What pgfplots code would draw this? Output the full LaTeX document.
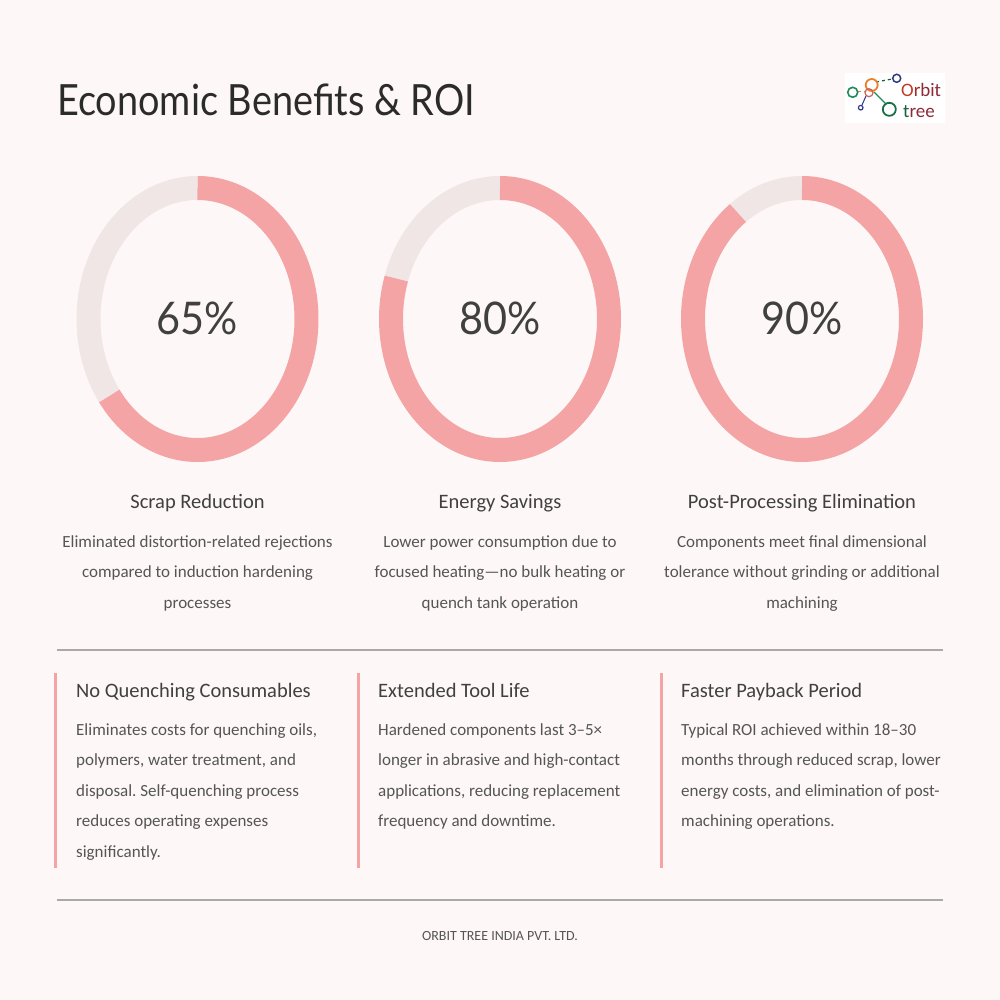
\documentclass[border=0pt]{standalone}
\usepackage{pgfplots}
\pgfplotsset{compat=1.18}
\usepackage{pgfplotstable}
\usepackage{fontspec}
\setmainfont{Carlito}
\newfontfamily\titlefont[FakeStretch=0.88]{Lato}
\newfontfamily\pctfont[FakeStretch=0.92]{Lato}
\definecolor{bg}{HTML}{FDF8F7}
\definecolor{pinkc}{HTML}{F4A4A4}
\definecolor{greyc}{HTML}{F0E6E6}
\definecolor{txtdark}{HTML}{2B2B2B}
\definecolor{txtmid}{HTML}{555555}
\definecolor{rulec}{HTML}{A9A9A9}
\definecolor{lgreen}{HTML}{1E8C5A}
\definecolor{lorange}{HTML}{E8822A}
\definecolor{lnavy}{HTML}{2E3A87}
\definecolor{lred}{HTML}{C0392B}
\definecolor{lmaroon}{HTML}{8E2A3A}

\pgfplotstableread{
cx value
197.5 65
500 80
802 90
}\donuts
\pgfplotstablegetelem{0}{value}\of\donuts \edef\va{\pgfplotsretval}
\pgfplotstablegetelem{1}{value}\of\donuts \edef\vb{\pgfplotsretval}
\pgfplotstablegetelem{2}{value}\of\donuts \edef\vc{\pgfplotsretval}

\newcommand{\bodyfont}{\fontsize{17}{17}\selectfont}
\newcommand{\headfont}{\fontsize{20.5}{20.5}\selectfont}
\frenchspacing

\begin{document}
\begin{tikzpicture}
\begin{axis}[width=1000pt,height=1000pt,scale only axis,
  xmin=0,xmax=1000,ymin=0,ymax=1000,y dir=reverse,hide axis,clip=false]
\fill[bg] (0,0) rectangle (1000,1000);

% donuts
\addplot[greyc, line width=24pt, domain={3.6*\va}:360, samples=120, no marks] ({197.5+109*sin(x)},{319-131*cos(x)});
\addplot[pinkc, line width=24pt, domain=0:{3.6*\va}, samples=200, no marks] ({197.5+109*sin(x)},{319-131*cos(x)});
\addplot[greyc, line width=24pt, domain={3.6*\vb}:360, samples=120, no marks] ({500+109*sin(x)},{319-131*cos(x)});
\addplot[pinkc, line width=24pt, domain=0:{3.6*\vb}, samples=200, no marks] ({500+109*sin(x)},{319-131*cos(x)});
\addplot[greyc, line width=24pt, domain={3.6*\vc}:360, samples=120, no marks] ({802+109*sin(x)},{319-131*cos(x)});
\addplot[pinkc, line width=24pt, domain=0:{3.6*\vc}, samples=200, no marks] ({802+109*sin(x)},{319-131*cos(x)});

% title
\node[anchor=base west, inner sep=0, font=\titlefont\fontsize{43}{43}\selectfont, text=txtdark] at (57,116) {Economic Benefits \& ROI};

% logo
\fill[white] (845,73) rectangle (945,123);
\draw[lgreen!70!black, dashed, line width=1.2pt] (876,82) -- (892,79);
\draw[lgreen, line width=1.2pt] (874,92) -- (886,104);
\draw[lnavy, line width=1pt] (866,96) -- (862,105);
\draw[lorange, dashed, line width=1pt] (858,92) -- (865,92);
\draw[lgreen, line width=1.6pt] (852.7,92.3) circle[radius=5];
\draw[lorange, line width=1.8pt] (871.7,85) circle[radius=6];
\draw[lred!80, line width=1.2pt] (869,92.7) circle[radius=4];
\draw[lnavy, line width=1.5pt] (896.7,78.3) circle[radius=4];
\draw[lnavy, line width=1.2pt] (860.7,107.7) circle[radius=2.3];
\draw[lgreen!80!black, line width=1.8pt] (889.3,109.3) circle[radius=6.5];
\node[anchor=base west, inner sep=0, font=\fontsize{19}{19}\selectfont] at (901,97) {\textcolor{lred}{O}\textcolor{lred!80!black}{r}\textcolor{lmaroon}{bit}};
\node[anchor=base west, inner sep=0, font=\fontsize{19}{19}\selectfont] at (903,118) {\textcolor{lgreen!70!black}{t}\textcolor{lmaroon}{ree}};

% percentages
\node[anchor=base, inner sep=0, font=\pctfont\fontsize{45}{45}\selectfont, text=txtdark!90] at (197.5,334) {\va\%};
\node[anchor=base, inner sep=0, font=\pctfont\fontsize{45}{45}\selectfont, text=txtdark!90] at (500,334) {\vb\%};
\node[anchor=base, inner sep=0, font=\pctfont\fontsize{45}{45}\selectfont, text=txtdark!90] at (802,334) {\vc\%};

% donut labels
\node[anchor=base, inner sep=0, font=\headfont, text=txtdark!90] at (197.5,508) {Scrap Reduction};
\node[anchor=base, inner sep=0, font=\headfont, text=txtdark!90] at (500,508) {Energy Savings};
\node[anchor=base, inner sep=0, font=\headfont, text=txtdark!90] at (802,508) {Post-Processing Elimination};

\node[anchor=base, inner sep=0, font=\bodyfont, text=txtmid] at (197.5,547) {Eliminated distortion-related rejections};
\node[anchor=base, inner sep=0, font=\bodyfont, text=txtmid] at (197.5,577.5) {compared to induction hardening};
\node[anchor=base, inner sep=0, font=\bodyfont, text=txtmid] at (197.5,608) {processes};
\node[anchor=base, inner sep=0, font=\bodyfont, text=txtmid] at (500,547) {Lower power consumption due to};
\node[anchor=base, inner sep=0, font=\bodyfont, text=txtmid] at (500,577.5) {focused heating—no bulk heating or};
\node[anchor=base, inner sep=0, font=\bodyfont, text=txtmid] at (500,608) {quench tank operation};
\node[anchor=base, inner sep=0, font=\bodyfont, text=txtmid] at (802,547) {Components meet final dimensional};
\node[anchor=base, inner sep=0, font=\bodyfont, text=txtmid] at (802,577.5) {tolerance without grinding or additional};
\node[anchor=base, inner sep=0, font=\bodyfont, text=txtmid] at (802,608) {machining};

% dividers
\draw[rulec, line width=2.5pt] (57,650) -- (943,650);
\draw[rulec, line width=2.5pt] (57,900) -- (943,900);

% column bars
\fill[pinkc] (54,673) rectangle (57,868);
\fill[pinkc] (356.5,673) rectangle (359.5,868);
\fill[pinkc] (659.5,673) rectangle (662.5,868);

% column 1
\node[anchor=base west, inner sep=0, font=\headfont, text=txtdark!90] at (76,697) {No Quenching Consumables};
\node[anchor=base west, inner sep=0, font=\bodyfont, text=txtmid] at (76,735) {Eliminates costs for quenching oils,};
\node[anchor=base west, inner sep=0, font=\bodyfont, text=txtmid] at (76,765.5) {polymers, water treatment, and};
\node[anchor=base west, inner sep=0, font=\bodyfont, text=txtmid] at (76,796) {disposal. Self-quenching process};
\node[anchor=base west, inner sep=0, font=\bodyfont, text=txtmid] at (76,826.5) {reduces operating expenses};
\node[anchor=base west, inner sep=0, font=\bodyfont, text=txtmid] at (76,857) {significantly.};
% column 2
\node[anchor=base west, inner sep=0, font=\headfont, text=txtdark!90] at (378,697) {Extended Tool Life};
\node[anchor=base west, inner sep=0, font=\bodyfont, text=txtmid] at (378,735) {Hardened components last 3–5×};
\node[anchor=base west, inner sep=0, font=\bodyfont, text=txtmid] at (378,765.5) {longer in abrasive and high-contact};
\node[anchor=base west, inner sep=0, font=\bodyfont, text=txtmid] at (378,796) {applications, reducing replacement};
\node[anchor=base west, inner sep=0, font=\bodyfont, text=txtmid] at (378,826.5) {frequency and downtime.};
% column 3
\node[anchor=base west, inner sep=0, font=\headfont, text=txtdark!90] at (681,697) {Faster Payback Period};
\node[anchor=base west, inner sep=0, font=\bodyfont, text=txtmid] at (681,735) {Typical ROI achieved within 18–30};
\node[anchor=base west, inner sep=0, font=\bodyfont, text=txtmid] at (681,765.5) {months through reduced scrap, lower};
\node[anchor=base west, inner sep=0, font=\bodyfont, text=txtmid] at (681,796) {energy costs, and elimination of post-};
\node[anchor=base west, inner sep=0, font=\bodyfont, text=txtmid] at (681,826.5) {machining operations.};

% footer
\node[anchor=base, inner sep=0, font=\fontsize{14}{14}\selectfont, text=txtmid] at (500,940) {ORBIT TREE INDIA PVT. LTD.};
\end{axis}
\end{tikzpicture}
\end{document}
